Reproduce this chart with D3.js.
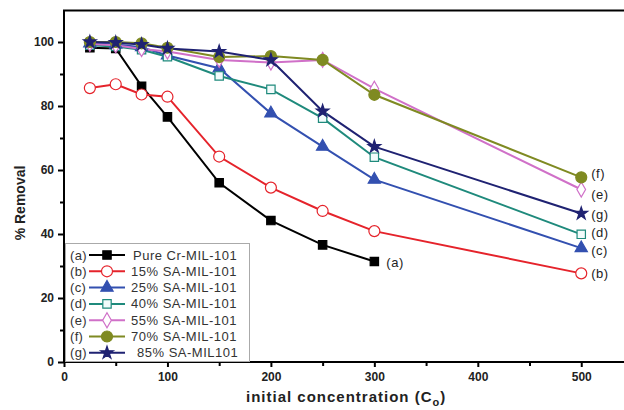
<!DOCTYPE html>
<html><head><meta charset="utf-8">
<script src="https://cdn.jsdelivr.net/npm/d3@7"></script>
<style>body{margin:0;background:#fff}svg{display:block;font-family:"Liberation Sans",Arial,sans-serif}</style>
</head><body><svg id="c" width="624" height="410"></svg>
<script>
const xs = [25, 50, 75, 100, 150, 200, 250, 300, 500];
const seriesA = [98.2, 98.0, 86.2, 76.6, 56.0, 44.2, 36.6, 31.4, null];
const seriesB = [85.6, 86.8, 83.6, 82.9, 64.2, 54.5, 47.2, 40.9, 27.7];
const seriesC = [99.6, 99.2, 98.4, 95.8, 91.8, 77.7, 67.3, 57.0, 35.6];
const seriesD = [99.0, 98.6, 97.6, 95.4, 89.4, 85.2, 76.2, 64.0, 39.9];
const seriesE = [99.4, 99.0, 97.8, 97.0, 94.4, 93.6, 94.4, 85.4, 53.9];
const seriesF = [100.0, 100.0, 99.6, 98.2, 95.3, 95.6, 94.4, 83.5, 57.7];
const seriesG = [100.0, 99.8, 99.2, 98.0, 97.0, 94.4, 78.4, 67.3, 46.4];
const seriesNames = ["Pure Cr-MIL-101", "15% SA-MIL-101", "25% SA-MIL-101", "40% SA-MIL-101", "55% SA-MIL-101", "70% SA-MIL-101", "85% SA-MIL101"];
const seriesTags = ["(a)", "(b)", "(c)", "(d)", "(e)", "(f)", "(g)"];
const xTicks = [0, 100, 200, 300, 400, 500];
const yTicks = [0, 20, 40, 60, 80, 100];

const styles = [
  {color:"#000000", shape:"square", fill:"#000000"},
  {color:"#e5232b", shape:"circle", fill:"#ffffff"},
  {color:"#3350b0", shape:"triangle", fill:"#3350b0"},
  {color:"#1f8a7c", shape:"square", fill:"#f2fbfb"},
  {color:"#d070c8", shape:"diamond", fill:"#ffffff"},
  {color:"#7f8a22", shape:"circle", fill:"#7f8a22"},
  {color:"#1f2272", shape:"star", fill:"#1f2272"}
];
const allSeries = [seriesA, seriesB, seriesC, seriesD, seriesE, seriesF, seriesG];

const svg = d3.select("#c");
const x = d3.scaleLinear().domain([0, 550]).range([64, 64 + 550 * 1.0345]);
const y = d3.scaleLinear().domain([0, 110]).range([362, 10]);

// frame top
svg.append("line").attr("x1", 63).attr("x2", 640).attr("y1", 10.5).attr("y2", 10.5)
  .attr("stroke", "#000").attr("stroke-width", 2);

// y axis
const yAxis = d3.axisLeft(y).tickValues(d3.range(0, 110, 10)).tickSize(6).tickPadding(4)
  .tickFormat(d => yTicks.includes(d) ? d : "");
const gy = svg.append("g").attr("transform", "translate(64,0)").call(yAxis);
gy.select(".domain").attr("stroke-width", 2).attr("d", "M0,10V363");
gy.selectAll(".tick line").attr("stroke-width", 2).attr("x2", d => yTicks.includes(d) ? -6 : -4);
gy.selectAll(".tick text").attr("font-weight", "bold").attr("font-size", 12).attr("fill", "#222")
  .attr("font-family", "Liberation Sans, Arial, sans-serif");

// x axis
const xAxis = d3.axisBottom(x).tickValues(d3.range(0, 551, 50)).tickSize(5).tickPadding(5)
  .tickFormat(d => xTicks.includes(d) ? d : "");
const gx = svg.append("g").attr("transform", "translate(0,362)").call(xAxis);
gx.select(".domain").attr("stroke-width", 2).attr("d", "M63,0H640");
gx.selectAll(".tick line").attr("stroke-width", 2).attr("y2", d => xTicks.includes(d) ? 5 : 4);
gx.selectAll(".tick text").attr("font-weight", "bold").attr("font-size", 12).attr("fill", "#222")
  .attr("font-family", "Liberation Sans, Arial, sans-serif");

// titles
svg.append("text").attr("transform", "translate(25,203) rotate(-90)").attr("text-anchor", "middle")
  .attr("font-weight", "bold").attr("font-size", 14).attr("fill", "#222").text("% Removal");
const xt = svg.append("text").attr("x", 246).attr("y", 402).attr("font-weight", "bold")
  .attr("font-size", 15).attr("fill", "#222").attr("letter-spacing", 1);
xt.append("tspan").text("initial concentration (C");
xt.append("tspan").attr("font-size", 11).attr("dy", 4).text("o");
xt.append("tspan").attr("dy", -4).text(")");

function symbolPath(shape) {
  const m = {square: [d3.symbolSquare, 70], circle: [d3.symbolCircle, 95], triangle: [d3.symbolTriangle, 65],
    diamond: [d3.symbolDiamond, 65], star: [d3.symbolStar, 50]};
  return d3.symbol().type(m[shape][0]).size(m[shape][1])();
}

const line = d3.line().defined(d => d[1] != null).x(d => x(d[0])).y(d => y(d[1]));

allSeries.forEach((vals, i) => {
  const st = styles[i];
  const pts = xs.map((xv, j) => [xv, vals[j]]).filter(p => p[1] != null);
  svg.append("path").attr("d", line(pts)).attr("fill", "none").attr("stroke", st.color).attr("stroke-width", 2);
});
allSeries.forEach((vals, i) => {
  const st = styles[i];
  const pts = xs.map((xv, j) => [xv, vals[j]]).filter(p => p[1] != null);
  svg.append("g").selectAll("path").data(pts).join("path")
    .attr("transform", d => `translate(${x(d[0])},${y(d[1])})`)
    .attr("d", symbolPath(st.shape)).attr("fill", st.fill).attr("stroke", st.color).attr("stroke-width", 1.2);
});

// end labels
const endLabelDy = {0: 0, 1: 0, 2: 2, 3: -2, 4: 4, 5: -4, 6: 0};
allSeries.forEach((vals, i) => {
  let j = vals.length - 1;
  while (vals[j] == null) j--;
  svg.append("text").attr("x", x(xs[j]) + (i === 0 ? 12 : 10)).attr("y", y(vals[j]) + 5 + endLabelDy[i])
    .attr("font-size", 13).attr("fill", "#222").attr("letter-spacing", 0.5).text(seriesTags[i]);
});

// legend
const lg = svg.append("g");
lg.append("rect").attr("x", 65.5).attr("y", 243.5).attr("width", 184).attr("height", 118)
  .attr("fill", "#fff").attr("stroke", "#aaa").attr("stroke-width", 1);
seriesNames.forEach((name, i) => {
  const st = styles[i];
  const yy = 255 + i * 16.3;
  lg.append("text").attr("x", 70).attr("y", yy + 4.5).attr("font-size", 13).attr("fill", "#333")
    .attr("letter-spacing", 0.3).text(seriesTags[i]);
  lg.append("line").attr("x1", 89).attr("x2", 125).attr("y1", yy).attr("y2", yy)
    .attr("stroke", st.color).attr("stroke-width", 2);
  lg.append("path").attr("transform", `translate(107,${yy})`).attr("d", symbolPath(st.shape))
    .attr("fill", st.fill).attr("stroke", st.color).attr("stroke-width", 1.2);
  lg.append("text").attr("x", i === 6 ? 137 : (i === 0 ? 133 : 131)).attr("y", yy + 4.5).attr("font-size", 13)
    .attr("fill", "#333").attr("letter-spacing", 0.5).text(name);
});
</script></body></html>
